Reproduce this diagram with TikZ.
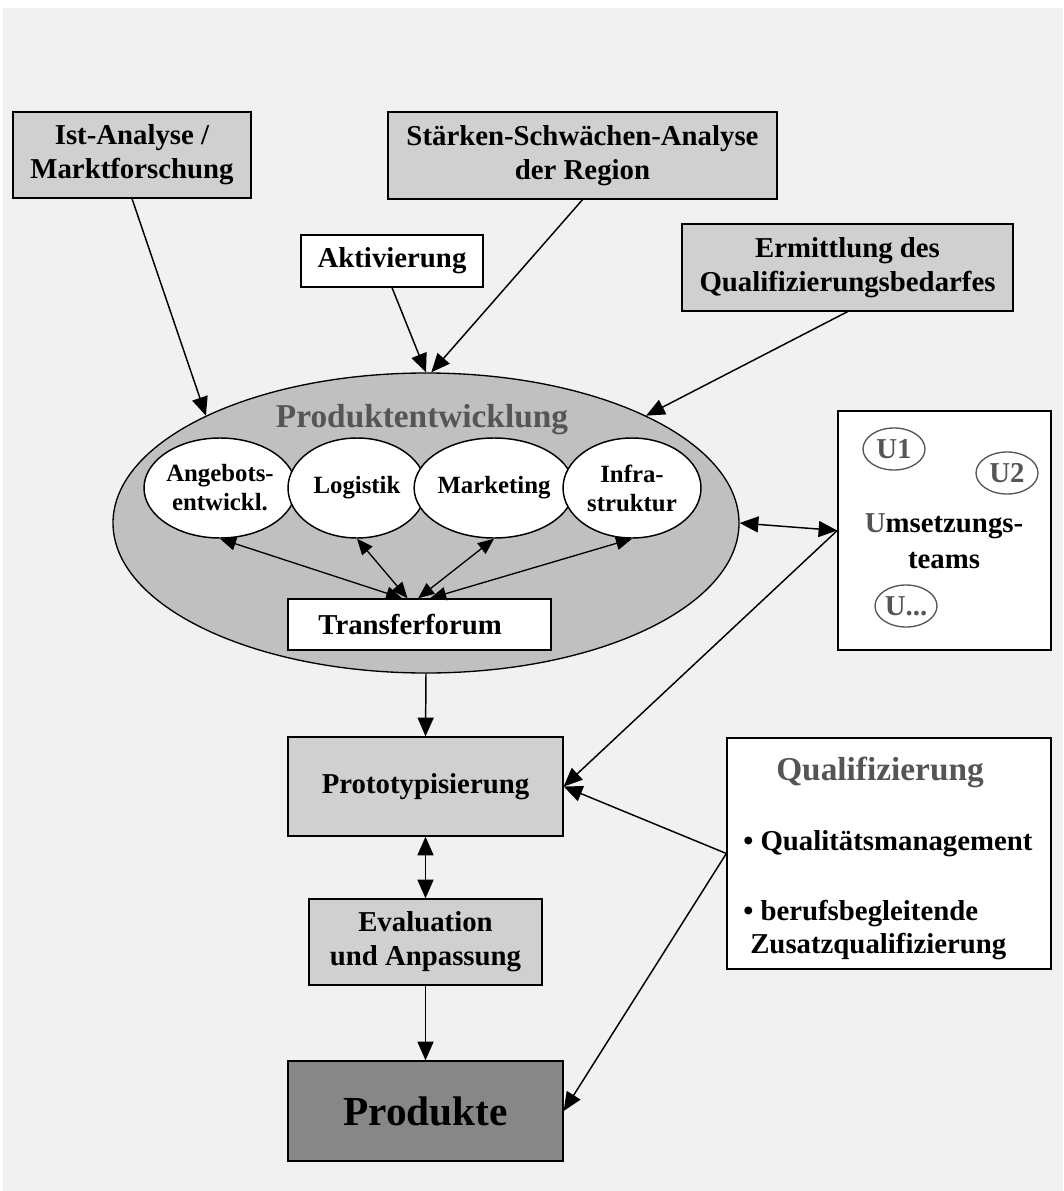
\documentclass[tikz,border=0pt]{standalone}
\usepackage{fontspec}
\setmainfont{Liberation Serif}
\usetikzlibrary{shapes.geometric, arrows.meta, positioning}
\definecolor{hintergrund}{HTML}{F1F1F1}
\definecolor{hellgrau}{HTML}{D0D0D0}
\definecolor{mittelgrau}{HTML}{C0C0C0}
\definecolor{dunkelgrau}{HTML}{878787}
\definecolor{textgrau}{HTML}{555555}

\begin{document}
\begin{tikzpicture}[x=0.75pt,y=-0.75pt,
    kasten/.style={draw, line width=1pt, fill=hellgrau, align=center, inner sep=0pt,
        font={\fontsize{21.6}{25.5}\selectfont\bfseries}},
    weisskasten/.style={kasten, fill=white},
    teilellipse/.style={ellipse, draw, line width=1.1pt, fill=white, align=center, inner sep=0pt,
        minimum width=103.5pt, minimum height=75pt, font={\fontsize{18.6}{21.75}\selectfont\bfseries}},
    uteam/.style={ellipse, draw=textgrau, line width=1pt, text=textgrau, inner sep=0pt,
        minimum width=46.5pt, minimum height=31.5pt, font={\fontsize{21.6}{25.5}\selectfont\bfseries}},
    graulabel/.style={text=textgrau, inner sep=0pt, font={\fontsize{25}{30}\selectfont\bfseries}},
    fliesstext/.style={inner sep=0pt, font={\fontsize{21.6}{25.5}\selectfont\bfseries}},
    pfeil/.style={-{Triangle[length=14pt,width=12pt]}, line width=1.1pt},
    doppelpfeil/.style={{Triangle[length=14pt,width=12pt]}-{Triangle[length=14pt,width=12pt]}, line width=1.1pt},
    kleinpfeil/.style={{Triangle[length=12pt,width=10pt]}-{Triangle[length=12pt,width=10pt]}, line width=1pt}
]
    % Hintergrund
    \useasboundingbox (0,0) rectangle (1063,1191);
    \fill[hintergrund] (3,8) rectangle (1063,1191);
    % obere Kaesten
    \node[kasten, minimum width=178.5pt, minimum height=64.5pt] (ist) at (132,155) {Ist-Analyse /\\Marktforschung};
    \node[kasten, minimum width=291.75pt, minimum height=65.25pt] (staerken) at (582.5,155.5) {Stärken-Schwächen-Analyse\\der Region};
    \node[weisskasten, minimum width=136.5pt, minimum height=39pt] (aktiv) at (392,261) {Aktivierung};
    \node[kasten, minimum width=248.25pt, minimum height=65.25pt] (ermitt) at (847.5,267.5) {Ermittlung des\\Qualifizierungsbedarfes};
    % Produktentwicklung
    \node[ellipse, draw, line width=1pt, fill=mittelgrau, minimum width=469.5pt, minimum height=225pt, inner sep=0pt] (prod) at (426,523) {};
    \node[graulabel, anchor=base] (prodlabel) at (422,427) {Produktentwicklung};
    \node[teilellipse] (angebot) at (220,488) {Angebots-\\entwickl.};
    \node[teilellipse] (logistik) at (357,488) {Logistik};
    \node[teilellipse] (marketing) at (494,488) {Marketing};
    \node[teilellipse] (infra) at (632,488) {Infra-\\struktur};
    \node[weisskasten, line width=1.1pt, minimum width=197.25pt, minimum height=38.25pt] (transfer) at (419.5,624.5) {Transferforum\hspace{14pt}};
    % Umsetzungsteams
    \node[weisskasten, line width=1.1pt, minimum width=159.75pt, minimum height=179.25pt] (umset) at (944.5,530.5) {};
    \node[uteam] (uein) at (894,449) {U1};
    \node[uteam] (uzwei) at (1007,473) {U2};
    \node[uteam] (uweitere) at (906,606) {U...};
    \node[fliesstext, align=center, font={\fontsize{21.6}{27}\selectfont\bfseries}] (umsetlabel) at (944,541) {{\color{textgrau}U}msetzungs-\\teams};
    % untere Kaesten
    \node[kasten, minimum width=206.25pt, minimum height=74.25pt] (proto) at (425.5,786.5) {Prototypisierung};
    \node[kasten, minimum width=174.75pt, minimum height=64.5pt] (eval) at (425.5,942) {Evaluation\\und Anpassung};
    \node[kasten, fill=dunkelgrau, minimum width=206.25pt, minimum height=75pt, font={\fontsize{31}{36}\selectfont\bfseries}] (produkte) at (425.5,1111) {Produkte};
    % Qualifizierung
    \node[weisskasten, minimum width=243pt, minimum height=173.25pt] (quali) at (889,853.5) {};
    \node[graulabel, anchor=base] (qualilabel) at (880,780) {Qualifizierung};
    \node[fliesstext, anchor=base west] (qm) at (743,850) {• Qualitätsmanagement};
    \node[fliesstext, anchor=base west] (beruf) at (743,920) {• berufsbegleitende};
    \node[fliesstext, anchor=base west] (zusatz) at (750,953) {Zusatzqualifizierung};
    % Pfeile oben
    \draw[pfeil] (ist.south) -- (prod.154);
    \draw[pfeil] (aktiv.south) -- (prod.north);
    \draw[pfeil] (staerken.south) -- ([xshift=4pt]prod.north);
    \draw[pfeil] (ermitt.south) -- (prod.26);
    % Pfeile zum Transferforum
    \draw[kleinpfeil] (angebot.south) -- ([xshift=-13pt]transfer.north);
    \draw[kleinpfeil] (logistik.south) -- ([xshift=-9pt]transfer.north);
    \draw[kleinpfeil] (marketing.south) -- ([xshift=-1pt]transfer.north);
    \draw[kleinpfeil] (infra.south) -- ([xshift=8pt]transfer.north);
    % Pfeile rechts
    \draw[doppelpfeil] (prod.east) -- (umset.west);
    \draw[pfeil] (umset.west) -- (proto.east);
    \draw[pfeil] (quali.west) -- (proto.east);
    \draw[pfeil] (quali.west) -- (produkte.east);
    % Pfeile unten
    \draw[pfeil] (prod.south) -- (proto.north);
    \draw[doppelpfeil] (proto.south) -- (eval.north);
    \draw[pfeil] (eval.south) -- (produkte.north);
\end{tikzpicture}
\end{document}
